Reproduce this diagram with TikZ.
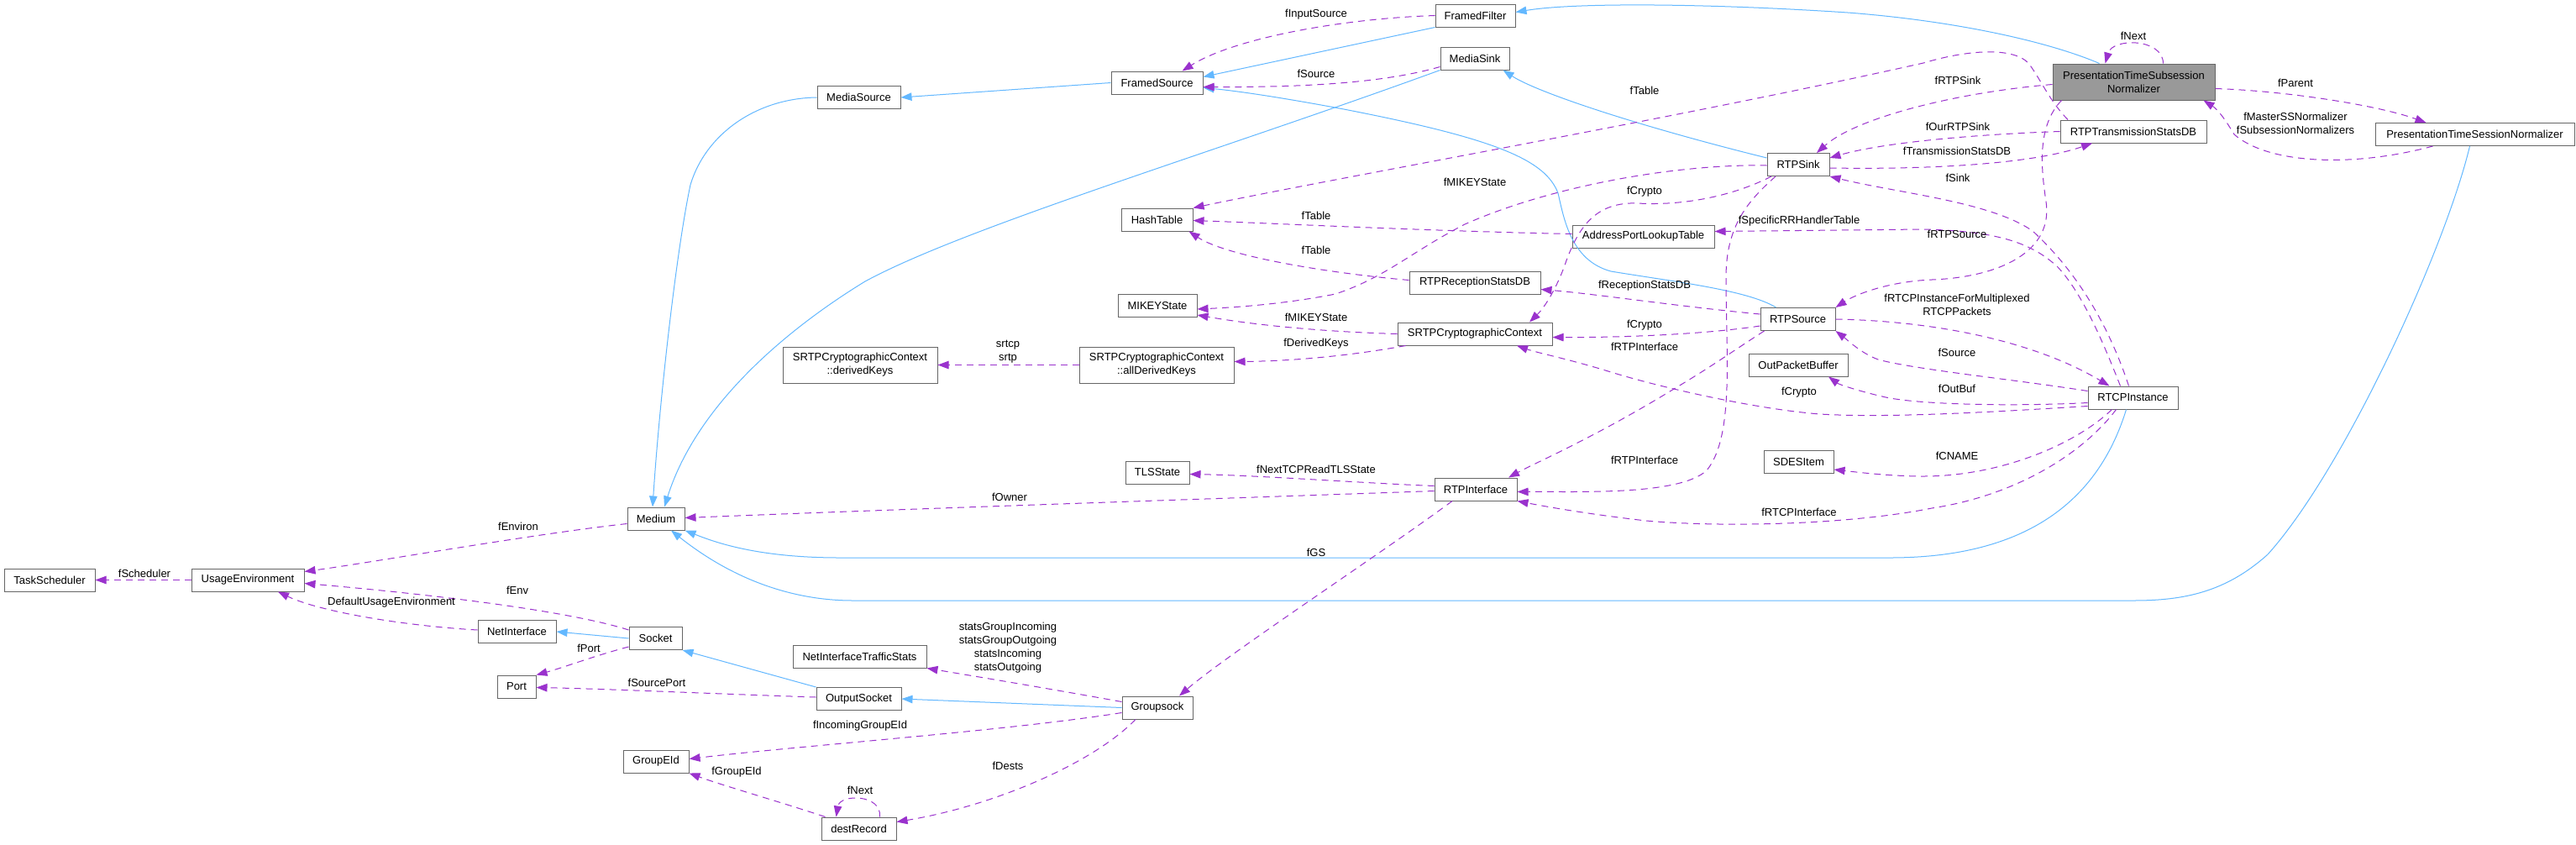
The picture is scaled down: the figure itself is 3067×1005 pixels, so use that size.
\documentclass[tikz,border=0pt]{standalone}
\usepackage{fontspec}
\setmainfont{Liberation Sans}
\usepackage{xcolor}
\usetikzlibrary{arrows.meta,calc}

\definecolor{inhblue}{RGB}{99,184,255}
\definecolor{membpurple}{RGB}{154,50,205}
\definecolor{boxgray}{RGB}{102,102,102}
\definecolor{mainfill}{RGB}{153,153,153}
\newcommand{\dxfont}{\fontsize{13}{16}\selectfont}

\tikzset{
  cls/.style={draw=boxgray, fill=white, line width=1pt, font=\dxfont, align=center,
    inner xsep=2pt, inner ysep=0pt, minimum height=27pt},
  inh/.style={inhblue, line width=1pt, -{Triangle[length=13pt,width=9.5pt]}},
  memb/.style={membpurple, line width=1pt, dash pattern=on 8pt off 6pt,
    -{Triangle[length=13pt,width=9.5pt]}},
  lbl/.style={font=\dxfont, inner sep=0pt, align=center},
}

\begin{document}
\begin{tikzpicture}[x=1pt,y=-1pt]
    \path[use as bounding box, fill=white] (0,0) rectangle (3067,1005);

    % classes
    \node[cls, fill=mainfill, minimum width=193pt, minimum height=43pt] (ptsn) at (2540.5,97.5) {PresentationTimeSubsession\\Normalizer};
    \node[cls, minimum width=237pt] (ptsessn) at (2946.5,160) {PresentationTimeSessionNormalizer};
    \node[cls, minimum width=95pt] (framedfilter) at (1756.5,18.5) {FramedFilter};
    \node[cls, minimum width=82pt] (mediasink) at (1756,69.5) {MediaSink};
    \node[cls, minimum width=109pt] (framedsource) at (1377.5,98.5) {FramedSource};
    \node[cls, minimum width=99pt] (mediasource) at (1022.5,116) {MediaSource};
    \node[cls, minimum width=85pt] (hashtable) at (1377.5,261.5) {HashTable};
    \node[cls, minimum width=74pt] (rtpsink) at (2141,196) {RTPSink};
    \node[cls, minimum width=174pt] (rtptxdb) at (2540,156.5) {RTPTransmissionStatsDB};
    \node[cls, minimum width=169pt] (aplt) at (1956.5,281.5) {AddressPortLookupTable};
    \node[cls, minimum width=156pt] (rtprxdb) at (1756,336.5) {RTPReceptionStatsDB};
    \node[cls, minimum width=94pt] (mikey) at (1378,364) {MIKEYState};
    \node[cls, minimum width=184pt] (srtpcc) at (1756,397.5) {SRTPCryptographicContext};
    \node[cls, minimum width=184pt, minimum height=43pt] (allkeys) at (1377,434.5) {SRTPCryptographicContext\\::allDerivedKeys};
    \node[cls, minimum width=184pt, minimum height=43pt] (derkeys) at (1024,434.5) {SRTPCryptographicContext\\::derivedKeys};
    \node[cls, minimum width=89pt] (rtpsource) at (2140.5,380) {RTPSource};
    \node[cls, minimum width=118pt] (outbuf) at (2141,434.5) {OutPacketBuffer};
    \node[cls, minimum width=107pt] (rtcp) at (2539.5,473.5) {RTCPInstance};
    \node[cls, minimum width=83pt] (sdes) at (2141.5,550) {SDESItem};
    \node[cls, minimum width=76pt] (tls) at (1378,562.5) {TLSState};
    \node[cls, minimum width=98pt] (rtpif) at (1757,582.5) {RTPInterface};
    \node[cls, minimum width=68pt] (medium) at (781,617.5) {Medium};
    \node[cls, minimum width=108pt] (tasksched) at (59,690.5) {TaskScheduler};
    \node[cls, minimum width=134pt] (usageenv) at (295,690.5) {UsageEnvironment};
    \node[cls, minimum width=93pt] (netif) at (615.5,752) {NetInterface};
    \node[cls, minimum width=63pt] (socket) at (780.5,760) {Socket};
    \node[cls, minimum width=46pt] (port) at (615,817.5) {Port};
    \node[cls, minimum width=159pt] (nits) at (1023.5,781.5) {NetInterfaceTrafficStats};
    \node[cls, minimum width=101pt] (outsock) at (1022.5,832) {OutputSocket};
    \node[cls, minimum width=84pt] (groupsock) at (1378,842.5) {Groupsock};
    \node[cls, minimum width=78pt] (groupeid) at (781,906.5) {GroupEId};
    \node[cls, minimum width=89pt] (destrec) at (1022.5,986.5) {destRecord};

    % inheritance
    \draw[inh] (framedsource.west) -- (mediasource.east);
    \draw[inh] (mediasource.west) .. controls (900,117) and (840,160) .. (822,220) .. controls (805,300) and (785,480) .. ([xshift=-4pt]medium.north);
    \draw[inh] (mediasink.south west) .. controls (1450,180) and (1150,270) .. (1030,335) .. controls (940,390) and (830,480) .. ([xshift=10pt]medium.north);
    \draw[inh] (framedfilter.south west) -- ([yshift=7pt]framedsource.east);
    \draw[inh] ([xshift=-41pt]ptsn.north) .. controls (2440,50) and (2330,25) .. (2200,15) .. controls (2050,5) and (1880,2) .. ([yshift=4pt]framedfilter.east);
    \draw[inh] ([yshift=8pt]rtpsink.west) .. controls (1950,150) and (1830,110) .. ([xshift=-8pt]mediasink.south east);
    \draw[inh] ([xshift=-26pt]rtpsource.north) .. controls (2080,345) and (1990,335) .. (1918,323) .. controls (1870,310) and (1862,260) .. (1855,230) .. controls (1840,190) and (1780,165) .. (1600,130) .. controls (1520,115) and (1470,108) .. ([yshift=-6pt]framedsource.east);
    \draw[inh] ([xshift=-8pt]rtcp.south) .. controls (2500,590) and (2420,664) .. (2250,664) -- (1000,664) .. controls (900,664) and (850,645) .. (medium.south east);
    \draw[inh] ([xshift=-6pt]ptsessn.south) .. controls (2910,300) and (2790,560) .. (2700,660) .. controls (2650,705) and (2600,715) .. (2540,715) -- (1016,715) .. controls (930,715) and (860,680) .. ([xshift=18pt]medium.south);
    \draw[inh] (socket.west) -- (netif.east);
    \draw[inh] (outsock.north west) -- (socket.south east);
    \draw[inh] (groupsock.west) -- (outsock.east);

    % members
    \draw[memb] (framedfilter.west) .. controls (1600,22) and (1470,45) .. ([xshift=30pt]framedsource.north);
    \draw[memb] ([yshift=-10pt]mediasink.west) .. controls (1650,98) and (1560,104) .. ([yshift=-5pt]framedsource.east);
    \draw[memb] ([xshift=35pt]ptsn.north) .. controls (2575,45) and (2515,45) .. ([xshift=-34pt]ptsn.north);
    \draw[memb] ([yshift=-3pt]ptsn.west) .. controls (2330,110) and (2210,140) .. ([xshift=22pt]rtpsink.north);
    \draw[memb] ([yshift=-8pt]ptsn.east) .. controls (2720,108) and (2830,125) .. ([xshift=-58pt]ptsessn.north);
    \draw[memb] ([xshift=-50pt]ptsessn.south) .. controls (2800,200) and (2700,195) .. (2660,160) .. controls (2648,140) and (2640,130) .. ([xshift=83pt]ptsn.south);
    \draw[memb] ([xshift=-86pt]ptsn.south) .. controls (2425,150) and (2430,200) .. (2436,240) .. controls (2445,300) and (2380,330) .. (2300,333) .. controls (2250,335) and (2210,350) .. (rtpsource.north east);
    \draw[memb] ([xshift=-78pt]rtptxdb.north) .. controls (2440,120) and (2430,95) .. (2415,75) .. controls (2395,55) and (2340,60) .. (2290,75) .. controls (2000,140) and (1600,210) .. (hashtable.north east);
    \draw[memb] ([yshift=-4pt]rtpsink.east) .. controls (2300,202) and (2420,195) .. ([xshift=-49pt]rtptxdb.south);
    \draw[memb] (rtptxdb.west) .. controls (2350,160) and (2240,170) .. ([yshift=8pt]rtpsink.east);
    \draw[memb] ([xshift=-5pt]rtcp.north) .. controls (2515,400) and (2480,330) .. (2420,275) .. controls (2370,240) and (2260,230) .. (rtpsink.south east);
    \draw[memb] ([xshift=-15pt]rtcp.north) .. controls (2505,410) and (2480,350) .. (2450,318) .. controls (2420,290) and (2380,275) .. (2290,273) -- ([yshift=6pt]aplt.east);
    \draw[memb] ([xshift=-32pt]rtpsink.south) .. controls (2060,235) and (2000,245) .. (1950,242) .. controls (1900,240) and (1880,270) .. (1865,310) .. controls (1855,340) and (1840,365) .. ([xshift=65pt]srtpcc.north);
    \draw[memb] ([yshift=-1pt]rtpsink.west) .. controls (2000,195) and (1850,220) .. (1744,267) .. controls (1680,300) and (1650,330) .. (1590,350) .. controls (1530,362) and (1470,366) .. ([yshift=-4pt]mikey.east);
    \draw[memb] (srtpcc.west) .. controls (1580,395) and (1500,388) .. ([yshift=-11pt]mikey.east);
    \draw[memb] ([xshift=10pt]srtpcc.south west) .. controls (1600,425) and (1530,430) .. ([yshift=4pt]allkeys.east);
    \draw[memb] (allkeys.west) -- (derkeys.east);
    \draw[memb] ([yshift=3pt]aplt.west) .. controls (1700,275) and (1520,266) .. ([yshift=-1pt]hashtable.east);
    \draw[memb] ([yshift=3pt]rtprxdb.west) .. controls (1580,325) and (1460,305) .. ([xshift=38pt]hashtable.south);
    \draw[memb] ([yshift=6pt]rtpsource.west) .. controls (2000,365) and (1900,350) .. ([yshift=-8pt]rtprxdb.east);
    \draw[memb] ([yshift=-8pt]rtpsource.west) .. controls (2030,398) and (1930,402) .. ([yshift=-4pt]srtpcc.east);
    \draw[memb] ([xshift=-40pt]rtpsource.south) .. controls (2060,420) and (2040,435) .. (1993,463) .. controls (1900,520) and (1830,550) .. ([xshift=39pt]rtpif.north);
    \draw[memb] ([xshift=-27pt]rtpsink.south) .. controls (2080,240) and (2055,270) .. (2055,330) .. controls (2055,420) and (2065,520) .. (2032,560) .. controls (2000,590) and (1880,585) .. ([yshift=-3pt]rtpif.east);
    \draw[memb] ([xshift=-20pt]rtcp.south) .. controls (2480,540) and (2400,590) .. (2300,605) .. controls (2200,625) and (2050,628) .. (1960,620) .. controls (1890,612) and (1840,603) .. (rtpif.south east);
    \draw[memb] ([xshift=-25pt]rtcp.south) .. controls (2470,530) and (2380,567) .. (2290,567) .. controls (2250,567) and (2210,562) .. ([yshift=-9pt]sdes.east);
    \draw[memb] ([yshift=-6pt]rtcp.west) .. controls (2400,484) and (2280,482) .. (2241,472) .. controls (2215,466) and (2190,458) .. ([xshift=36pt]outbuf.south);
    \draw[memb] ([yshift=-10pt]rtcp.west) .. controls (2380,490) and (2250,498) .. (2167,493) .. controls (2100,488) and (1990,465) .. (1918,443) .. controls (1870,428) and (1830,420) .. ([xshift=50pt]srtpcc.south);
    \draw[memb] ([yshift=8pt]rtcp.west) .. controls (2400,452) and (2280,440) .. (2236,428) .. controls (2215,420) and (2200,405) .. (rtpsource.south east);
    \draw[memb] (rtpsource.east) .. controls (2300,382) and (2420,405) .. ([xshift=-28pt]rtcp.north);
    \draw[memb] ([yshift=4pt]rtpif.west) .. controls (1620,575) and (1500,566) .. ([yshift=-2pt]tls.east);
    \draw[memb] ([yshift=-2pt]rtpif.west) .. controls (1500,592) and (1100,605) .. ([yshift=1pt]medium.east);
    \draw[memb] ([xshift=-28pt]rtpif.south) .. controls (1650,655) and (1460,780) .. ([xshift=26pt]groupsock.north);
    \draw[memb] ([yshift=-6pt]medium.west) .. controls (640,635) and (440,670) .. ([yshift=10pt]usageenv.east);
    \draw[memb] (usageenv.west) -- (tasksched.east);
    \draw[memb] ([yshift=10pt]socket.west) .. controls (680,728) and (520,708) .. ([yshift=-4pt]usageenv.east);
    \draw[memb] ([yshift=2pt]netif.west) .. controls (480,745) and (380,728) .. ([xshift=36pt]usageenv.south);
    \draw[memb] ([yshift=-10pt]socket.west) .. controls (710,780) and (670,795) .. (port.north east);
    \draw[memb] ([yshift=2pt]outsock.west) .. controls (850,826) and (720,820) .. ([yshift=-1pt]port.east);
    \draw[memb] ([yshift=7pt]groupsock.west) .. controls (1250,820) and (1160,805) .. (nits.south east);
    \draw[memb] ([yshift=-6pt]groupsock.west) .. controls (1200,870) and (950,888) .. ([yshift=3pt]groupeid.east);
    \draw[memb] ([xshift=-26pt]groupsock.south) .. controls (1300,910) and (1180,960) .. ([yshift=8pt]destrec.east);
    \draw[memb] ([xshift=-40pt]destrec.north) .. controls (930,955) and (860,935) .. (groupeid.south east);
    \draw[memb] ([xshift=25pt]destrec.north) .. controls (1050,945) and (1000,945) .. ([xshift=-27pt]destrec.north);

    % labels
    \node[lbl] (lInputSource) at (1567,17) {fInputSource};
    \node[lbl] (lSource) at (1567,88) {fSource};
    \node[lbl] (lNext) at (2540,43) {fNext};
    \node[lbl] (lRTPSink) at (2331,96) {fRTPSink};
    \node[lbl] (lParent) at (2733,99) {fParent};
    \node[lbl] (lMaster) at (2733,147) {fMasterSSNormalizer\\fSubsessionNormalizers};
    \node[lbl] (lTableTx) at (1958,108) {fTable};
    \node[lbl] (lOurRTPSink) at (2331,151) {fOurRTPSink};
    \node[lbl] (lTxDB) at (2330,180) {fTransmissionStatsDB};
    \node[lbl] (lSink) at (2331,212) {fSink};
    \node[lbl] (lMikeySink) at (1756,217) {fMIKEYState};
    \node[lbl] (lCryptoSink) at (1958,228) {fCrypto};
    \node[lbl] (lRRHandler) at (2142,263) {fSpecificRRHandlerTable};
    \node[lbl] (lTableAplt) at (1567,257) {fTable};
    \node[lbl] (lRTPSource) at (2330,279) {fRTPSource};
    \node[lbl] (lTableRx) at (1567,298) {fTable};
    \node[lbl] (lRxDB) at (1958,340) {fReceptionStatsDB};
    \node[lbl] (lRTCPMux) at (2330,363) {fRTCPInstanceForMultiplexed\\RTCPPackets};
    \node[lbl] (lMikeyCtx) at (1567,378) {fMIKEYState};
    \node[lbl] (lCryptoSrc) at (1958,387) {fCrypto};
    \node[lbl] (lDerived) at (1567,409) {fDerivedKeys};
    \node[lbl] (lRTPIfA) at (1958,413) {fRTPInterface};
    \node[lbl] (lSrtp) at (1200,418.5) {srtcp\\srtp};
    \node[lbl] (lSourceRtcp) at (2330,420) {fSource};
    \node[lbl] (lOutBuf) at (2330,463) {fOutBuf};
    \node[lbl] (lCryptoRtcp) at (2142,467) {fCrypto};
    \node[lbl] (lCNAME) at (2330,543) {fCNAME};
    \node[lbl] (lRTPIfB) at (1958,548) {fRTPInterface};
    \node[lbl] (lTLS) at (1567,559) {fNextTCPReadTLSState};
    \node[lbl] (lOwner) at (1202,592) {fOwner};
    \node[lbl] (lRTCPIf) at (2142,610) {fRTCPInterface};
    \node[lbl] (lEnviron) at (617,627) {fEnviron};
    \node[lbl] (lGS) at (1567,658) {fGS};
    \node[lbl] (lScheduler) at (172,683) {fScheduler};
    \node[lbl] (lEnv) at (616,703) {fEnv};
    \node[lbl] (lDefEnv) at (466,717) {DefaultUsageEnvironment};
    \node[lbl] (lPort) at (701,772) {fPort};
    \node[lbl] (lStats) at (1200,771) {statsGroupIncoming\\statsGroupOutgoing\\statsIncoming\\statsOutgoing};
    \node[lbl] (lSourcePort) at (782,813) {fSourcePort};
    \node[lbl] (lIncoming) at (1024,864) {fIncomingGroupEId};
    \node[lbl] (lDests) at (1200,912) {fDests};
    \node[lbl] (lGroupEId) at (877,919) {fGroupEId};
    \node[lbl] (lNextDest) at (1024,941) {fNext};
\end{tikzpicture}
\end{document}
